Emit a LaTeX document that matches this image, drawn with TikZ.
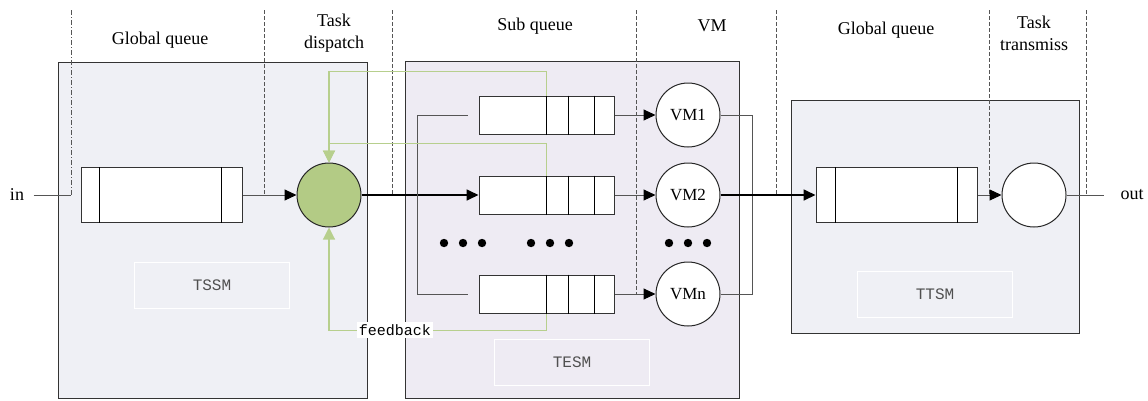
\documentclass[tikz,border=0pt]{standalone}
\usepackage{fontspec}
\setmainfont{Liberation Serif}
\newfontfamily\codefont{Liberation Mono}
\usepackage{xcolor}
\definecolor{panelGray}{HTML}{EFF0F5}
\definecolor{panelLilac}{HTML}{EEEBF3}
\definecolor{lineGray}{HTML}{555555}
\definecolor{fbGreen}{HTML}{B7CF8D}
\definecolor{dispGreen}{HTML}{B3CB85}
\definecolor{tagGray}{HTML}{505050}
\usetikzlibrary{arrows.meta}

\tikzset{
  panel/.style={draw=black!80, line width=1pt},
  sep/.style={draw=lineGray, line width=0.8pt, dash pattern=on 4pt off 2pt},
  queue/.style={rectangle, draw=black!80, fill=white, line width=1pt},
  server/.style={circle, draw=black!85, fill=white, line width=1pt, minimum size=64pt, inner sep=0pt, font=\fontsize{17}{17}\selectfont},
  flow/.style={draw=lineGray, line width=1pt},
  main/.style={draw=black, line width=1.7pt},
  tip/.style={-{Triangle[length=12pt,width=11pt,color=black]}},
  fb/.style={draw=fbGreen, line width=1.1pt, -{Triangle[length=12pt,width=12pt,fill=fbGreen]}},
  tag/.style={draw=white, line width=0.8pt, minimum width=155pt, minimum height=46pt, text=tagGray, font=\codefont\fontsize{16}{16}\selectfont},
  head/.style={align=center, font=\fontsize{18}{22}\selectfont},
}

\begin{document}
\begin{tikzpicture}[x=1pt, y=-1pt]
  \useasboundingbox (0,0) rectangle (1148,400);
  % modules
  \filldraw[panel, fill=panelGray] (58,62) rectangle (367,398);
  \filldraw[panel, fill=panelLilac] (405,61) rectangle (739,398);
  \filldraw[panel, fill=panelGray] (791,100) rectangle (1079,333);
  % column separators
  \draw[draw=lineGray, line width=0.8pt, dash pattern=on 5pt off 2pt on 1pt off 2pt] (71,10) -- (71,195);
  \foreach \x in {264,392,776,989,1086}
    \draw[sep] (\x,10) -- (\x,195);
  \draw[sep] (636,10) -- (636,294);
  % column titles
  \node[head] (hgq1) at (160,40) {Global queue};
  \node[head] (hdisp) at (334,33) {Task\\dispatch};
  \node[head] (hsq) at (535,26) {Sub queue};
  \node[head] (hvm) at (712,26) {VM};
  \node[head] (hgq2) at (886,30) {Global queue};
  \node[head] (htrans) at (1034,33) {Task\\transmiss};
  % module names
  \node[tag] (tssm) at (212,285) {TSSM};
  \node[tag] (tesm) at (572,362) {TESM};
  \node[tag] (ttsm) at (935,294) {TTSM};
  % queues
  \node[queue, minimum width=161pt, minimum height=55pt] (gq1) at (161.5,195) {};
  \node[queue, minimum width=161pt, minimum height=55pt] (gq2) at (896.5,195) {};
  \foreach \d in {19,141}
    \draw[line width=1pt] ([xshift=\d pt]gq1.north west) -- ([xshift=\d pt]gq1.south west);
  \foreach \d in {20,142}
    \draw[line width=1pt] ([xshift=\d pt]gq2.north west) -- ([xshift=\d pt]gq2.south west);
  \node[queue, minimum width=135pt, minimum height=38pt] (sq1) at (546.5,115) {};
  \node[queue, minimum width=135pt, minimum height=38pt] (sq2) at (546.5,195) {};
  \node[queue, minimum width=135pt, minimum height=38pt] (sqn) at (546.5,294) {};
  \foreach \q in {sq1,sq2,sqn}
    \foreach \d in {68,90,116}
      \draw[line width=1pt] ([xshift=\d pt]\q.north west) -- ([xshift=\d pt]\q.south west);
  % servers
  \node[server, fill=dispGreen] (disp) at (329,195) {};
  \node[server] (vm1) at (688,115) {VM1};
  \node[server] (vm2) at (688,195) {VM2};
  \node[server] (vmn) at (688,294) {VMn};
  \node[server] (trans) at (1034,195) {};
  \foreach \x in {444,463,482,531,550,569,669,688,707}
    \fill (\x,243) circle (4.2);
  % in / out
  \node[font=\fontsize{18}{18}\selectfont] (inlab) at (17,195) {in};
  \node[font=\fontsize{18}{18}\selectfont] (outlab) at (1132,195) {out};
  \coordinate (inend) at (71,195);
  \draw[flow, shorten <=6pt] (inlab.east) -- (inend);
  \draw[flow, tip] (gq1) -- (disp);
  \draw[main, tip] (disp) -- (sq2);
  \draw[flow] ([xshift=-11pt]sq1.west) -- ++(-50,0) |- ([xshift=-11pt]sqn.west);
  \foreach \i in {1,2,n}
    \draw[flow, tip] (sq\i) -- (vm\i);
  \draw[flow] (vm1.east) -- ++(32,0) |- (vmn.east);
  \draw[main, tip] (vm2) -- (gq2);
  \draw[flow, tip] (gq2) -- (trans);
  \draw[flow, shorten >=13pt] (trans) -- (outlab);
  % feedback
  \draw[fb] ([xshift=68pt]sq1.north west) -- ++(0,-24) -| (disp.north);
  \draw[fb] ([xshift=68pt]sq2.north west) -- ++(0,-32) -| (disp.north);
  \draw[fb] ([xshift=68pt]sqn.south west) -- ++(0,17) -| (disp.south);
  \node[fill=white, inner sep=2pt, font=\codefont\fontsize{15}{15}\selectfont] (fbk) at (395,330) {feedback};
\end{tikzpicture}
\end{document}
